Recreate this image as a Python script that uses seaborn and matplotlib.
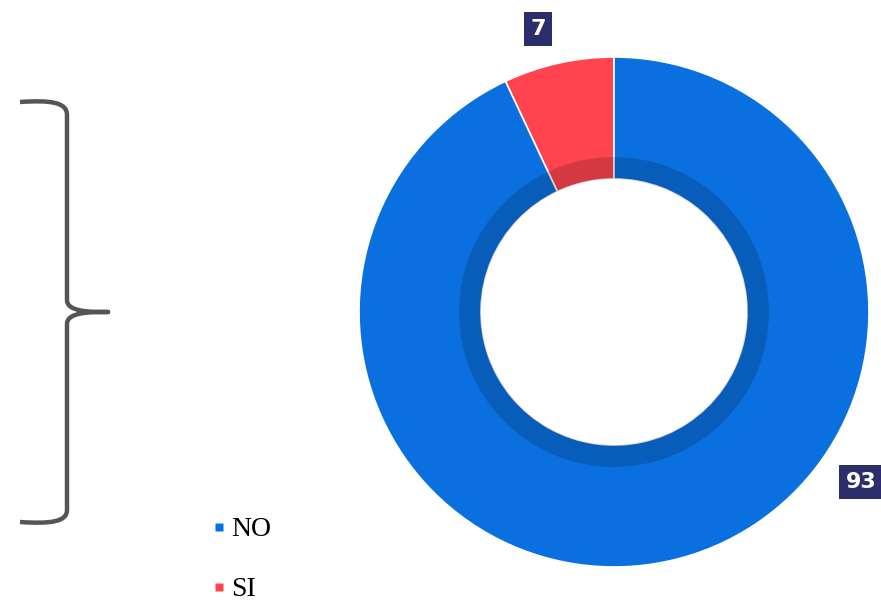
import numpy as np
import matplotlib
matplotlib.use("Agg")
import matplotlib.pyplot as plt
import seaborn as sns
from matplotlib.patches import Wedge
from matplotlib.path import Path
from matplotlib.patches import PathPatch
from matplotlib.lines import Line2D

categories = ["NO", "SI"]
values = [93, 7]
colors = {"NO": "#0A70E0", "SI": "#FF444F"}
label_box = "#2B2E6B"

sns.set_theme(style="white")
plt.rcParams['font.family'] = ['DejaVu Sans']

W, H = 881, 601
fig = plt.figure(figsize=(W / 100, H / 100), dpi=100)
fig.patch.set_facecolor("white")

# background axes in pixel coords for the brace
bg = fig.add_axes([0, 0, 1, 1])
bg.set_xlim(0, W)
bg.set_ylim(H, 0)
bg.axis("off")

verts = [
    (20, 102), (50, 100), (67, 102), (67, 115),
    (67, 300),
    (67, 312), (90, 312), (108, 312),
    (90, 312), (67, 312), (67, 324),
    (67, 510),
    (67, 522), (50, 524), (20, 522),
]
codes = [Path.MOVETO, Path.CURVE4, Path.CURVE4, Path.CURVE4,
         Path.LINETO,
         Path.CURVE4, Path.CURVE4, Path.CURVE4,
         Path.CURVE4, Path.CURVE4, Path.CURVE4,
         Path.LINETO,
         Path.CURVE4, Path.CURVE4, Path.CURVE4]
bg.add_patch(PathPatch(Path(verts, codes), fill=False, edgecolor="#555555",
                       lw=3.2, capstyle="butt", joinstyle="round"))

# donut axes
cx, cy, R = 614, 312, 255
ax = fig.add_axes([(cx - R) / W, (H - cy - R) / H, 2 * R / W, 2 * R / H])

order = ["SI", "NO"]
vals = [values[categories.index(c)] for c in order]
hole = 133 / R
wedges, _ = ax.pie(vals, colors=[colors[c] for c in order], startangle=90,
                   counterclock=True, radius=1,
                   wedgeprops=dict(width=1 - hole, edgecolor="white", linewidth=1.2))
ax.set_xlim(-1, 1)
ax.set_ylim(-1, 1)
ax.set_aspect("equal")
ax.axis("off")

# inner shadow ring
ax.add_patch(Wedge((0, 0), 155 / R, 0, 360, width=155 / R - hole,
                   facecolor="black", alpha=0.17, edgecolor="none"))

# data labels
box = dict(boxstyle="square,pad=0.3", facecolor=label_box, edgecolor="none")
ax.text(-0.298, 1.11, str(values[1]), ha="center", va="center", color="white",
        fontsize=16, fontweight="bold", bbox=box, clip_on=False)
ax.text(0.91, -0.667, str(values[0]), ha="left", va="center", color="white",
        fontsize=16, fontweight="bold", bbox=box, clip_on=False)

# legend
handles = [Line2D([0], [0], marker="s", linestyle="none", markersize=6,
                  markerfacecolor=colors[c], markeredgecolor="none") for c in categories]
leg = fig.legend(handles, categories, loc="upper left", bbox_to_anchor=(198 / W, 1 - 503 / H),
                 frameon=False, prop={"family": "Liberation Serif", "size": 20},
                 handlelength=0.5, handletextpad=0.2, labelspacing=1.24, borderpad=0)
for t in leg.get_texts():
    t.set_color("black")

fig.savefig("out.png", dpi=100, facecolor="white")
